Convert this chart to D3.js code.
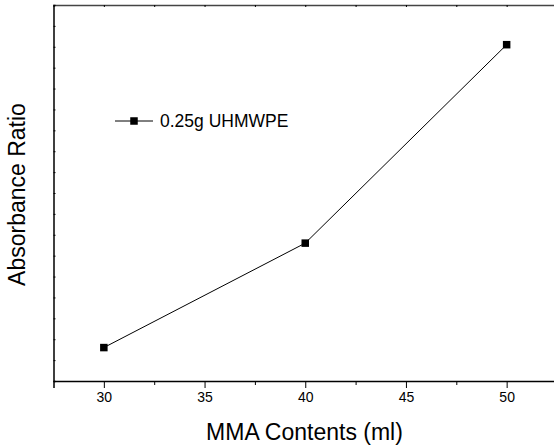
<!DOCTYPE html>
<html>
<head>
<meta charset="utf-8">
<script src="https://cdn.jsdelivr.net/npm/d3@7"></script>
<style>
  body { margin: 0; background: #fff; }
  text { font-family: "Liberation Sans", Arial, sans-serif; fill: #000; }
</style>
</head>
<body>
<div id="chart"></div>
<script>
var mmaContents = [30, 40, 50];
var absorbanceRatio = [0.16, 0.66, 1.61];
var seriesName = "0.25g UHMWPE";
var xTicks = [30, 35, 40, 45, 50];

function init(){
    var w = 554;
    var h = 447;
    var left = 53.5, right = 557, top = 5, bottom = 381;

    var x = d3.scaleLinear()
                .domain([27.5, 52.5])
                .range([left, right]);

    var y = d3.scaleLinear()
                .domain([0, 1.8])
                .range([bottom, top]);

    var svg = d3.select("#chart")
                .append("svg")
                .attr("width", w)
                .attr("height", h);

    // bottom axis: labelled majors, minor ticks in between
    var xAxis = d3.axisBottom(x)
                    .tickValues(xTicks)
                    .tickSize(7)
                    .tickPadding(4)
                    .tickFormat(d3.format("d"));
    var gx = svg.append("g")
        .attr("transform", "translate(0," + bottom + ")")
        .call(xAxis);
    gx.select(".domain").attr("stroke-width", 1.5);
    gx.selectAll("text").attr("font-size", 14).attr("font-family", "Liberation Sans, Arial, sans-serif");

    var xMinor = d3.axisBottom(x)
                    .tickValues([32.5, 37.5, 42.5, 47.5, 52.5])
                    .tickSize(4)
                    .tickFormat("");
    svg.append("g")
        .attr("transform", "translate(0," + bottom + ")")
        .call(xMinor)
        .select(".domain").remove();

    // top axis, small inward ticks
    var xTop = d3.axisTop(x)
                    .tickValues(d3.range(30, 52.6, 2.5))
                    .tickSize(-2)
                    .tickFormat("");
    var gt = svg.append("g")
        .attr("transform", "translate(0," + top + ")")
        .call(xTop);
    gt.select(".domain").attr("stroke", "#444").attr("stroke-width", 1.5);

    // left axis, no labels, inward ticks
    var yAxis = d3.axisLeft(y)
                    .tickValues(d3.range(0.1, 1.8, 0.1))
                    .tickSize(-2)
                    .tickFormat("");
    var gy = svg.append("g")
        .attr("transform", "translate(" + left + ",0)")
        .call(yAxis);
    gy.select(".domain").attr("stroke-width", 1.5);

    var pts = mmaContents.map(function(d, i) { return [d, absorbanceRatio[i]]; });

    var line = d3.line()
                .x(function(d) { return x(d[0]); })
                .y(function(d) { return y(d[1]); });

    svg.append("path")
        .datum(pts)
        .attr("d", line)
        .attr("fill", "none")
        .attr("stroke", "#000")
        .attr("stroke-width", 1);

    var ms = 7.5;
    svg.selectAll("rect.pt")
        .data(pts)
        .enter()
        .append("rect")
        .attr("class", "pt")
        .attr("x", function(d) { return x(d[0]) - ms / 2; })
        .attr("y", function(d) { return y(d[1]) - ms / 2; })
        .attr("width", ms)
        .attr("height", ms)
        .attr("fill", "#000");

    // legend
    var lg = svg.append("g").attr("transform", "translate(115,121)");
    lg.append("line")
        .attr("x1", 0).attr("x2", 38)
        .attr("y1", 0).attr("y2", 0)
        .attr("stroke", "#000").attr("stroke-width", 1);
    lg.append("rect")
        .attr("x", 19 - ms / 2).attr("y", -ms / 2)
        .attr("width", ms).attr("height", ms)
        .attr("fill", "#000");
    lg.append("text")
        .attr("x", 45)
        .attr("y", 6)
        .attr("font-size", 17.5)
        .text(seriesName);

    // axis titles
    svg.append("text")
        .attr("x", 304.5)
        .attr("y", 440)
        .attr("text-anchor", "middle")
        .attr("font-size", 23)
        .text("MMA Contents (ml)");

    svg.append("text")
        .attr("transform", "translate(25,194.5) rotate(-90)")
        .attr("text-anchor", "middle")
        .attr("font-size", 23)
        .text("Absorbance Ratio");
}
window.onload = init;
</script>
</body>
</html>
